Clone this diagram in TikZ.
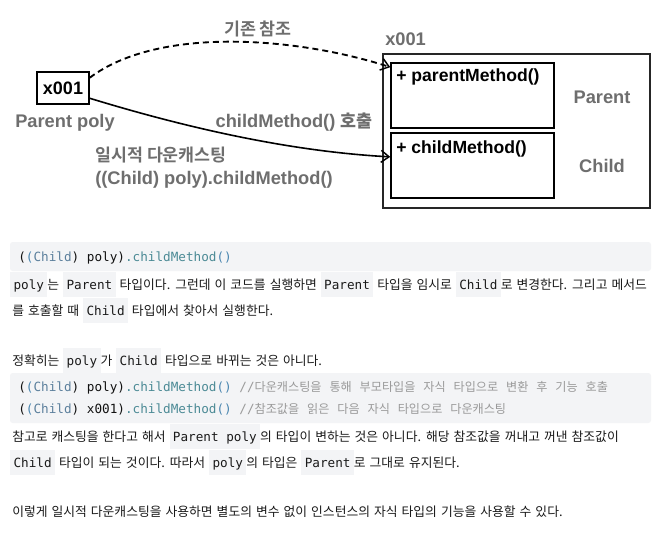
\documentclass[tikz,border=0pt]{standalone}
\usepackage{fontspec}
\setmainfont{Noto Sans CJK KR}[WordSpace=1.4]
\newfontfamily\lab{Liberation Sans}
\newfontfamily\krb{Noto Sans CJK KR Bold}
\newfontfamily\mono{DejaVu Sans Mono}
\newfontfamily\krc{Noto Sans CJK KR}[WordSpace=2.9]
\usetikzlibrary{arrows.meta}
\definecolor{codebg}{HTML}{F3F4F6}
\definecolor{labgray}{HTML}{6E6E6E}
\definecolor{txt}{HTML}{1A1A1A}
\definecolor{ctxt}{HTML}{111111}
\definecolor{cblue}{HTML}{4A86B0}
\definecolor{cslate}{HTML}{5B7F9C}
\definecolor{cteal}{HTML}{4B8A95}
\definecolor{cgray}{HTML}{9A9A9A}
\newcommand\ic[1]{{\setlength{\fboxsep}{0pt}\colorbox{codebg}{\rule[-6pt]{0pt}{18.75pt}\hspace{2.5pt}{\mono\fontsize{9.5pt}{11pt}\selectfont #1}\hspace{2.5pt}}}}
\newcommand\cmt[1]{{\color{cgray}//{\krc\fontsize{9.1pt}{10pt}\selectfont #1}}}
\newcommand\castchild{({\color{cblue}(}{\color{cslate}Child})}
\newcommand\callchild{{\color{cteal}.childMethod}{\color{cblue}()}}
\tikzset{
  lab/.style={font=\lab\bfseries\fontsize{13.7pt}{15pt}\selectfont, text=labgray, inner sep=0pt},
  klab/.style={font=\krb\fontsize{13pt}{15pt}\selectfont, text=labgray, inner sep=0pt},
  blab/.style={font=\lab\bfseries\fontsize{13.2pt}{15pt}\selectfont, text=black, inner sep=0pt, anchor=west},
  ref/.style={draw=black, line width=1.1pt, inner sep=0pt},
  objbox/.style={draw=black!85, line width=0.8pt},
  membox/.style={draw=black, line width=1.1pt, inner sep=0pt},
  conn/.style={line width=1.2pt, -{Straight Barb[length=6pt,width=9pt,line width=1.1pt]}},
  bl/.style={anchor=base west, inner sep=0pt, font=\fontsize{9.6pt}{11pt}\selectfont, text=txt},
  cl/.style={anchor=base west, inner sep=0pt, font=\mono\fontsize{9.5pt}{11pt}\selectfont, text=ctxt},
  codeblock/.style={fill=codebg, rounded corners=2pt, draw=none}
}
\begin{document}
\begin{tikzpicture}[x=0.75pt,y=-0.75pt]
\useasboundingbox[fill=white] (0,0) rectangle (668,540);

% ---------- diagram ----------
\node[ref, minimum width=39pt, minimum height=24pt, font=\lab\bfseries\fontsize{13.5pt}{15pt}\selectfont] (p) at (63,88) {x001};
\node[lab] (pp) at (65,123) {Parent poly};

\draw[objbox] (383,54) rectangle (650,208);
\node[lab, anchor=west] (objaddr) at (385,39) {x001};
\node[membox, minimum width=122.25pt, minimum height=48.75pt] (m1) at (472.5,95.5) {};
\node[membox, minimum width=122.25pt, minimum height=48.75pt] (m2) at (472.5,165.5) {};
\node[blab] (m1t) at (396,77) {+ parentMethod()};
\node[blab] (m2t) at (396,149) {+ childMethod()};
\node[lab] (cp) at (602,97) {Parent};
\node[lab] (cc) at (602,166) {Child};

\node[klab] (l1) at (258,29) {기존 참조};
\node[lab] (l2) at (294,122) {childMethod() {\krb\fontsize{13pt}{15pt}\selectfont 호출}};
\node[klab, anchor=west] (l3) at (95,155) {일시적 다운캐스팅};
\node[lab, anchor=west] (l4) at (95,180) {((Child) poly).childMethod()};

\draw[conn, dash pattern=on 4.5pt off 3pt, line width=1.4pt] (p.21) .. controls (160,25) and (300,38) .. (m1.161);
\draw[conn] (p.-21) .. controls (200,132) and (300,152) .. (m2.174);

% ---------- text ----------
\fill[codeblock] (10,242) rectangle (651,271);
\node[cl] (c1) at (18,261) {\castchild\ poly)\callchild};

\node[bl] (t1) at (10,289) {\ic{poly}는 \ic{Parent} 타입이다. 그런데 이 코드를 실행하면 \ic{Parent} 타입을 임시로 \ic{Child}로 변경한다. 그리고 메서드};
\node[bl] (t2) at (12,315) {를 호출할 때 \ic{Child} 타입에서 찾아서 실행한다.};

\node[bl] (t3) at (12,365) {정확히는 \ic{poly}가 \ic{Child} 타입으로 바뀌는 것은 아니다.};

\fill[codeblock] (10,373) rectangle (651,423);
\node[cl] (c2) at (18,391) {\castchild\ poly)\callchild\ \cmt{다운캐스팅을 통해 부모타입을 자식 타입으로 변환 후 기능 호출}};
\node[cl] (c3) at (18,413) {\castchild\ x001)\callchild\ \cmt{참조값을 읽은 다음 자식 타입으로 다운캐스팅}};

\node[bl] (t4) at (12,441) {참고로 캐스팅을 한다고 해서 \ic{Parent poly}의 타입이 변하는 것은 아니다. 해당 참조값을 꺼내고 꺼낸 참조값이};
\node[bl] (t5) at (10,467) {\ic{Child} 타입이 되는 것이다. 따라서 \ic{poly}의 타입은 \ic{Parent}로 그대로 유지된다.};

\node[bl] (t6) at (12,516) {이렇게 일시적 다운캐스팅을 사용하면 별도의 변수 없이 인스턴스의 자식 타입의 기능을 사용할 수 있다.};
\end{tikzpicture}
\end{document}
